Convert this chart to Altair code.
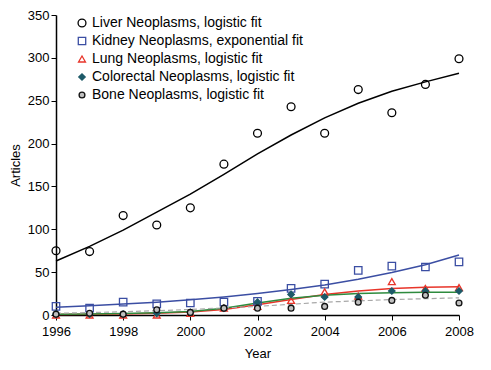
import altair as alt
import pandas as pd

years = list(range(1996, 2009))
series = ["Liver Neoplasms, logistic fit", "Kidney Neoplasms, exponential fit",
          "Lung Neoplasms, logistic fit", "Colorectal Neoplasms, logistic fit",
          "Bone Neoplasms, logistic fit"]

liver_pts = [75, 74, 116, 105, 125, 176, 212, 243, 212, 263, 236, 269, 299]
kidney_pts = [10, 8, 15, 13, 14, 15, 16, 31, 36, 52, 57, 56, 62]
lung_pts = [0, 0, 0, 0, 2, 8, 10, 17, 27, 22, 39, 31, 32]
colo_pts = [1, 1, 1, 2, 3, 8, 15, 24, 21, 21, 28, 28, 28]
bone_pts = [1, 2, 1, 6, 3, 8, 8, 8, 10, 15, 17, 23, 14]

liver_fit = [63, 80, 99, 120, 141, 164, 188, 210, 230, 247, 261, 272, 282]
kidney_fit = [9, 10.7, 12.7, 15, 17.8, 21, 25, 29.7, 35, 41.7, 49.5, 58.7, 70]
lung_fit = [0.5, 0.8, 1.2, 2, 3.5, 6.5, 12, 18, 24, 28, 31, 32.5, 33]
colo_fit = [1, 1.3, 1.8, 2.5, 4, 8, 14, 19.5, 23, 25, 26, 26.5, 26.5]
bone_fit = [2, 2.8, 3.8, 5, 6.5, 8.3, 10, 12.5, 15, 16.5, 18, 19, 20]

stroke_cols = ["#000000", "#3b4ea3", "#e8352a", "#1d5a68", "#111111"]
fill_cols = ["transparent", "transparent", "transparent", "#1d5a68", "#c0c0c0"]
shapes = ["circle", "square", "triangle-up", "diamond", "circle"]
line_cols = ["#000000", "#3b4ea3", "#e8352a", "#2e8b3e", "#a8a8a8"]
sizes = [62, 34, 50, 45, 72]

pts = [liver_pts, kidney_pts, lung_pts, colo_pts, bone_pts]
fits = [liver_fit, kidney_fit, lung_fit, colo_fit, bone_fit]

rows = []
for i, s in enumerate(series):
    for j, y in enumerate(years):
        rows.append({"series": s, "year": y, "val": pts[i][j], "fit": fits[i][j],
                     "lc": line_cols[i], "dash": 1 if i == 4 else 0, "order": i})
df = pd.DataFrame(rows)

xs = alt.X("year:Q", scale=alt.Scale(domain=[1996, 2008], nice=False, zero=False),
           axis=alt.Axis(values=list(range(1996, 2009, 2)), format="d", title="Year",
                         grid=False, tickSize=5, labelPadding=5, titlePadding=9,
                         labelFlush=False))
ys_axis = alt.Axis(values=list(range(0, 351, 50)), title="Articles", grid=False,
                   tickSize=5, labelPadding=2, titlePadding=5)

base = alt.Chart(df)

solid = base.transform_filter("datum.dash == 0").mark_line(strokeWidth=1.5).encode(
    x=xs,
    y=alt.Y("fit:Q", scale=alt.Scale(domain=[0, 350], nice=False), axis=ys_axis),
    color=alt.Color("lc:N", scale=None),
    detail="series:N",
)
dashed = base.transform_filter("datum.dash == 1").mark_line(strokeWidth=1.2, strokeDash=[5, 3]).encode(
    x=xs,
    y=alt.Y("fit:Q", scale=alt.Scale(domain=[0, 350], nice=False)),
    color=alt.Color("lc:N", scale=None),
    detail="series:N",
)

leg = alt.Legend(title=None, orient="none", legendX=19, legendY=1, labelFontSize=14,
                 symbolSize=50, symbolStrokeWidth=1.3, rowPadding=4, padding=0,
                 labelOffset=3, labelFont="Liberation Sans", labelColor="#000",
                 labelLimit=400)

points = base.mark_point(strokeWidth=1.3, opacity=1).encode(
    x=xs,
    y=alt.Y("val:Q", scale=alt.Scale(domain=[0, 350], nice=False)),
    color=alt.Color("series:N", scale=alt.Scale(domain=series, range=stroke_cols), legend=leg),
    fill=alt.Fill("series:N", scale=alt.Scale(domain=series, range=fill_cols), legend=leg),
    shape=alt.Shape("series:N", scale=alt.Scale(domain=series, range=shapes), legend=leg),
    size=alt.Size("series:N", scale=alt.Scale(domain=series, range=sizes), legend=None),
    order="order:Q",
)

chart = alt.layer(solid, dashed, points).properties(
    width=403, height=300,
    padding={"left": 48, "top": 7, "right": 20, "bottom": 50},
    autosize=alt.AutoSizeParams(type="none"),
).configure_view(stroke=None).configure_axis(
    labelFont="Liberation Sans", titleFont="Liberation Sans", labelFontSize=13,
    titleFontSize=13, titleFontWeight="normal", labelColor="#000", titleColor="#000",
    domainColor="#000", tickColor="#000", domainWidth=1.5, tickWidth=1,
).configure_legend(symbolLimit=0)

chart.save("out.html", embed_options={"renderer": "svg", "actions": False})
